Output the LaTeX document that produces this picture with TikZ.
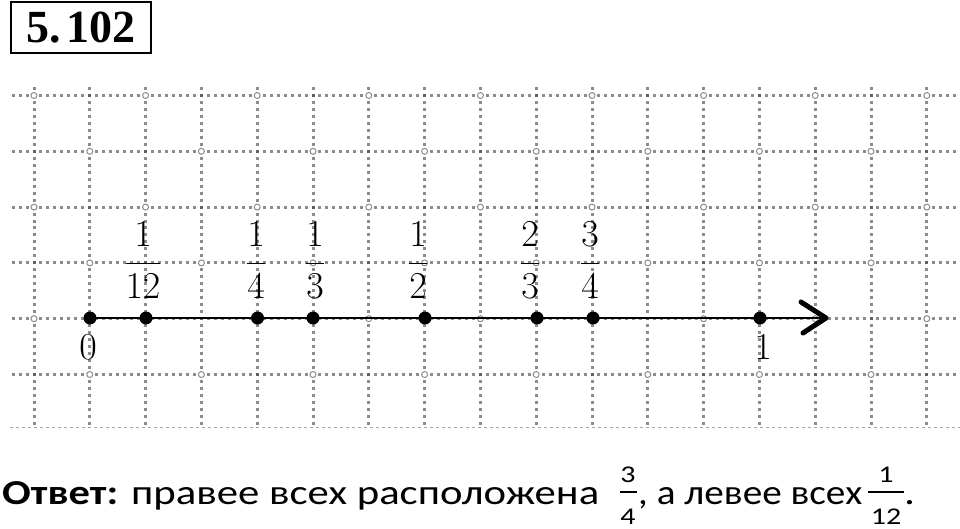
\RequirePackage{fix-cm}
\documentclass[tikz,border=0pt]{standalone}
\usepackage{amsmath}
\usepackage{graphicx}
\usepackage{fontspec}
\newfontfamily\calib{Carlito}
\newfontfamily\titlefont{Liberation Serif}
\tikzset{
  gridline/.style={black!45, line width=3pt, dash pattern=on 3pt off 3.975pt},
  faintline/.style={black!35, line width=1pt, dash pattern=on 3pt off 3pt},
  crossring/.style={circle, draw=black!45, fill=white, line width=1pt, minimum size=6pt, inner sep=0pt},
  crossdot/.style={rectangle, fill=black!62, minimum size=3pt, inner sep=0pt},
  numpt/.style={circle, fill=black, minimum size=13pt, inner sep=0pt},
  axisline/.style={black, line width=2pt},
  chevron/.style={black, line width=5pt, line cap=round, line join=round},
  fraclabel/.style={anchor=base, inner sep=0pt, font=\fontsize{38}{40}\selectfont},
  titlebox/.style={draw, line width=2.5pt, minimum width=140pt, minimum height=51pt, inner sep=0pt,
    font=\titlefont\fontsize{46}{50}\selectfont\bfseries},
  answer/.style={inner sep=0pt, anchor=base west, font=\calib\fontsize{35}{38}\selectfont},
  fracdigit/.style={anchor=base, inner sep=0pt, font=\calib\fontsize{24}{26}\selectfont},
  fracbar/.style={black, line width=2.2pt}
}
\begin{document}
\begin{tikzpicture}[x=1pt,y=-1pt]
\useasboundingbox (0,0) rectangle (960,529);
% grid
\foreach \j in {0,...,5}{
  \draw[gridline] (11.575,95.5+55.8*\j) -- (960,95.5+55.8*\j);
}
\draw[faintline] (10,427) -- (960,427);
\foreach \i in {0,...,16}{
  \draw[gridline] (34+55.8*\i,87.0) -- (34+55.8*\i,427);
}
\foreach \j in {0,...,5}{
  \foreach \i in {0,...,16}{
    \pgfmathtruncatemacro{\parity}{mod(\i+\j,2)}
    \ifnum\parity=0
      \node[crossring] (r\i-\j) at (34+55.8*\i,95.5+55.8*\j) {};
    \else
      \node[crossdot] (d\i-\j) at (34+55.8*\i,95.5+55.8*\j) {};
    \fi
  }
}
% title
\node[titlebox] (title) at (81,27.5) {\raisebox{-1pt}{5.\kern6pt102}};
% axis
\coordinate (tip) at (826,318);
\coordinate (armup) at (801,302);
\coordinate (armdn) at (803,333);
\node[numpt] (p0) at (90,318) {};
\draw[axisline] (p0.center) -- (tip);
\draw[chevron] (armup) -- (tip) -- (armdn);
\node[numpt] (p12) at (146,318) {};
\node[numpt] (p4) at (257.5,318) {};
\node[numpt] (p3) at (313,318) {};
\node[numpt] (p2) at (425,318) {};
\node[numpt] (q3) at (537,318) {};
\node[numpt] (q4) at (593,318) {};
\node[numpt] (p1) at (760,318) {};
% labels
\node[fraclabel] (l12) at (143,272.5) {$\displaystyle\frac{1}{12}$};
\node[fraclabel] (l4) at (256,272.5) {$\displaystyle\frac{1}{4}$};
\node[fraclabel] (l3) at (315,272.5) {$\displaystyle\frac{1}{3}$};
\node[fraclabel] (l2) at (418,272.5) {$\displaystyle\frac{1}{2}$};
\node[fraclabel] (m3) at (530,272.5) {$\displaystyle\frac{2}{3}$};
\node[fraclabel] (m4) at (590,272.5) {$\displaystyle\frac{3}{4}$};
\node[fraclabel] (l0) at (88,359) {$0$};
\node[fraclabel] (l1) at (763,359) {$1$};
% answer
\node[answer] (ans1) at (2,504) {\resizebox{116pt}{\height}{\bfseries Ответ:}};
\node[answer] (ans2) at (131,504) {\resizebox{468pt}{\height}{правее всех расположена}};
\node[fracdigit] (f1n) at (628,482) {\scalebox{1.25}[1]{3}};
\node[fracdigit] (f1d) at (628,524) {\scalebox{1.25}[1]{4}};
\draw[fracbar] (619.5,492) -- (636.5,492);
\node[answer] (ans3) at (638,504) {\resizebox{224pt}{\height}{, а левее всех}};
\node[fracdigit] (f2n) at (886,482) {\scalebox{1.25}[1]{1}};
\node[fracdigit] (f2d) at (886,524) {\scalebox{1.25}[1]{12}};
\draw[fracbar] (868,492) -- (904,492);
\node[answer] (ans4) at (904,504) {\scalebox{1.25}[1]{.}};
\end{tikzpicture}
\end{document}
